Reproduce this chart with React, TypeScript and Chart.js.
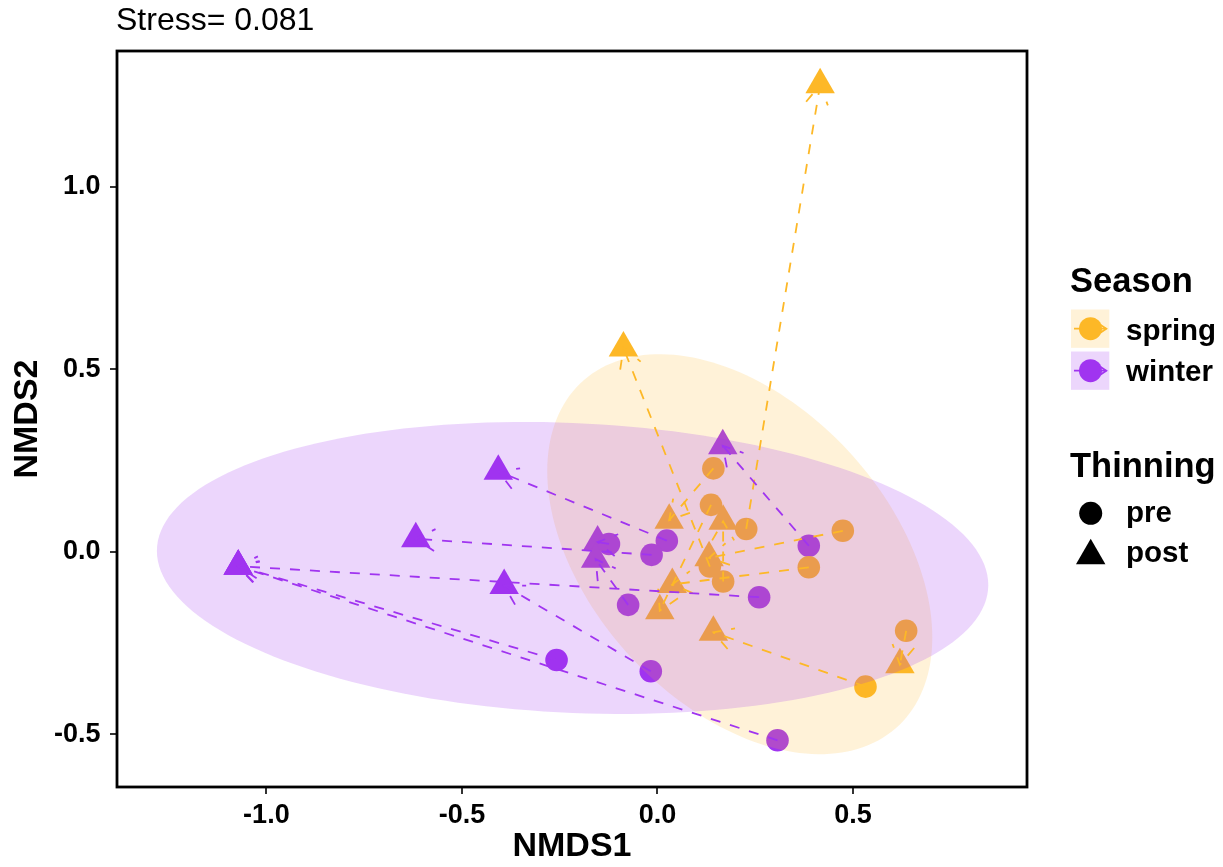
import React, { useEffect, useRef } from 'react';
import { Chart, registerables } from 'chart.js';

Chart.register(...registerables);

// ---------- colours ----------
const SPRING = '#FDB827';
const WINTER = '#A034F0';
const SPRING_FILL = 'rgba(253,184,39,0.18)';
const WINTER_FILL = 'rgba(160,52,240,0.20)';

// ---------- data (NMDS scores) ----------
// spring: pre-thinning (circles) and the matching post-thinning (triangles)
const springPreX = [0.143, 0.137, 0.227, 0.474, 0.387, 0.134, 0.168, 0.636, 0.532];
const springPreY = [0.229, 0.129, 0.063, 0.058, -0.042, -0.040, -0.081, -0.216, -0.369];
const springPostX = [0.030, 0.006, 0.416, 0.132, 0.038, -0.087, 0.168, 0.620, 0.143];
const springPostY = [0.087, -0.161, 1.280, -0.016, -0.089, 0.559, 0.084, -0.309, -0.220];

// winter: pre-thinning (circles) and the matching post-thinning (triangles)
const winterPreX = [-0.124, 0.024, -0.015, 0.387, -0.075, 0.260, -0.258, -0.017, 0.307];
const winterPreY = [0.022, 0.031, -0.008, 0.017, -0.145, -0.124, -0.296, -0.327, -0.516];
const winterPostX = [-0.153, -0.407, -0.618, 0.167, -0.158, -1.072, -1.072, -0.392, -1.072];
const winterPostY = [0.027, 0.221, 0.036, 0.291, -0.020, -0.039, -0.039, -0.092, -0.039];

// 95% ellipses: [centre x, centre y, half-extent x, half-extent y, correlation]
const springEllipse = [0.2105, -0.0062, 0.4923, 0.548, -0.416];
const winterEllipse = [-0.217, -0.0438, 1.063, 0.400, -0.1165];

// axes
const xTicks = [-1.0, -0.5, 0.0, 0.5];
const yTicks = [-0.5, 0.0, 0.5, 1.0];
const xRange = [-1.382, 0.945];
const yRange = [-0.644, 1.3726];

const stressLabel = 'Stress= 0.081';
const seasonLabels = ['spring', 'winter'];
const thinningLabels = ['pre', 'post'];

const FONT = '"Liberation Sans", Arial, Helvetica, sans-serif';

const toPoints = (xs: number[], ys: number[]) => xs.map((x, i) => ({ x, y: ys[i] }));

function drawArrow(ctx: CanvasRenderingContext2D, x0: number, y0: number, x1: number, y1: number, color: string) {
  ctx.strokeStyle = color;
  ctx.lineWidth = 1.8;
  ctx.lineCap = 'butt';
  ctx.setLineDash([10, 10]);
  ctx.beginPath();
  ctx.moveTo(x0, y0);
  ctx.lineTo(x1, y1);
  ctx.stroke();
  const ang = Math.atan2(y0 - y1, x0 - x1);
  const L = 22;
  const a = Math.PI / 6;
  ctx.beginPath();
  ctx.moveTo(x1 + L * Math.cos(ang + a), y1 + L * Math.sin(ang + a));
  ctx.lineTo(x1, y1);
  ctx.lineTo(x1 + L * Math.cos(ang - a), y1 + L * Math.sin(ang - a));
  ctx.stroke();
}

function drawEllipse(chart: any, e: number[], fill: string) {
  const { ctx, scales } = chart;
  const [cx, cy, wx, wy, r] = e;
  const s = Math.sqrt(1 - r * r);
  ctx.beginPath();
  const n = 180;
  for (let i = 0; i <= n; i++) {
    const t = (i / n) * Math.PI * 2;
    const dx = cx + wx * Math.cos(t);
    const dy = cy + wy * (r * Math.cos(t) + s * Math.sin(t));
    const px = scales.x.getPixelForValue(dx);
    const py = scales.y.getPixelForValue(dy);
    if (i === 0) ctx.moveTo(px, py);
    else ctx.lineTo(px, py);
  }
  ctx.closePath();
  ctx.fillStyle = fill;
  ctx.fill();
}

function drawTriangle(ctx: CanvasRenderingContext2D, x: number, y: number, r: number) {
  ctx.beginPath();
  for (let k = 0; k < 3; k++) {
    const rad = (k * 2 * Math.PI) / 3;
    const px = x + Math.sin(rad) * r;
    const py = y - Math.cos(rad) * r;
    if (k === 0) ctx.moveTo(px, py);
    else ctx.lineTo(px, py);
  }
  ctx.closePath();
  ctx.fill();
}

const overlayPlugin = {
  id: 'nmdsOverlay',
  afterDatasetsDraw(chart: any) {
    const { ctx, chartArea: ca, scales } = chart;
    const X = (v: number) => scales.x.getPixelForValue(v);
    const Y = (v: number) => scales.y.getPixelForValue(v);
    ctx.save();
    ctx.beginPath();
    ctx.rect(ca.left, ca.top, ca.right - ca.left, ca.bottom - ca.top);
    ctx.clip();
    drawEllipse(chart, springEllipse, SPRING_FILL);
    drawEllipse(chart, winterEllipse, WINTER_FILL);
    for (let i = 0; i < springPreX.length; i++) {
      drawArrow(ctx, X(springPreX[i]), Y(springPreY[i]), X(springPostX[i]), Y(springPostY[i]), SPRING);
    }
    for (let i = 0; i < winterPreX.length; i++) {
      drawArrow(ctx, X(winterPreX[i]), Y(winterPreY[i]), X(winterPostX[i]), Y(winterPostY[i]), WINTER);
    }
    ctx.restore();
    // panel border
    ctx.save();
    ctx.setLineDash([]);
    ctx.strokeStyle = '#000';
    ctx.lineWidth = 2.8;
    ctx.strokeRect(ca.left, ca.top, ca.right - ca.left, ca.bottom - ca.top);
    ctx.restore();
  },
  afterDraw(chart: any) {
    const { ctx } = chart;
    ctx.save();
    ctx.setLineDash([]);
    ctx.textAlign = 'left';
    ctx.textBaseline = 'alphabetic';
    ctx.fillStyle = '#000';
    // stress title
    ctx.font = `32px ${FONT}`;
    ctx.fillText(stressLabel, 116, 30);

    // Season legend
    ctx.font = `bold 34.5px ${FONT}`;
    ctx.fillText('Season', 1070, 291.5);
    const keyTops = [309.5, 351.5];
    const keyFills = [SPRING_FILL, WINTER_FILL];
    const keyCols = [SPRING, WINTER];
    const labelBase = [339.5, 380.7];
    for (let k = 0; k < 2; k++) {
      const top = keyTops[k];
      const left = 1071;
      const size = 38.3;
      ctx.fillStyle = keyFills[k];
      ctx.fillRect(left, top, size, size);
      const cy = top + size / 2;
      // segment with arrow
      ctx.strokeStyle = keyCols[k];
      ctx.lineWidth = 1.8;
      ctx.beginPath();
      ctx.moveTo(left + 3, cy);
      ctx.lineTo(left + size - 3, cy);
      ctx.stroke();
      ctx.beginPath();
      ctx.moveTo(left + size - 9, cy - 4);
      ctx.lineTo(left + size - 3, cy);
      ctx.lineTo(left + size - 9, cy + 4);
      ctx.stroke();
      ctx.fillStyle = keyCols[k];
      ctx.beginPath();
      ctx.arc(left + 19.5, cy, 11.5, 0, Math.PI * 2);
      ctx.fill();
      ctx.fillStyle = '#000';
      ctx.font = `bold 29.5px ${FONT}`;
      ctx.fillText(seasonLabels[k], 1126, labelBase[k]);
    }

    // Thinning legend
    ctx.fillStyle = '#000';
    ctx.font = `bold 34.5px ${FONT}`;
    ctx.fillText('Thinning', 1070, 476.7);
    ctx.beginPath();
    ctx.arc(1090.7, 513.3, 11.5, 0, Math.PI * 2);
    ctx.fill();
    drawTriangle(ctx, 1090.7, 555.8, 17);
    ctx.font = `bold 29.5px ${FONT}`;
    ctx.fillText(thinningLabels[0], 1126, 521.7);
    ctx.fillText(thinningLabels[1], 1126, 561.7);
    ctx.restore();
  },
};

export default function App() {
  const ref = useRef<HTMLCanvasElement | null>(null);

  useEffect(() => {
    if (!ref.current) return;
    const tickFont = { family: FONT, size: 27, weight: 'bold' as const };
    const titleFont = { family: FONT, size: 34, weight: 'bold' as const, lineHeight: 1 };
    const gridOpts = {
      display: true,
      drawOnChartArea: false,
      drawTicks: true,
      tickLength: 7,
      color: '#333333',
      lineWidth: 2,
    };
    const chart = new Chart(ref.current, {
      type: 'scatter',
      data: {
        datasets: [
          {
            label: 'spring pre',
            data: toPoints(springPreX, springPreY),
            pointStyle: 'circle',
            pointRadius: 11.3,
            pointHoverRadius: 11.3,
            backgroundColor: SPRING,
            borderWidth: 0,
          },
          {
            label: 'spring post',
            data: toPoints(springPostX, springPostY),
            pointStyle: 'triangle',
            pointRadius: 17,
            pointHoverRadius: 17,
            backgroundColor: SPRING,
            borderWidth: 0,
          },
          {
            label: 'winter pre',
            data: toPoints(winterPreX, winterPreY),
            pointStyle: 'circle',
            pointRadius: 11.3,
            pointHoverRadius: 11.3,
            backgroundColor: WINTER,
            borderWidth: 0,
          },
          {
            label: 'winter post',
            data: toPoints(winterPostX, winterPostY),
            pointStyle: 'triangle',
            pointRadius: 17,
            pointHoverRadius: 17,
            backgroundColor: WINTER,
            borderWidth: 0,
          },
        ],
      },
      options: {
        responsive: false,
        animation: false,
        events: [],
        layout: { padding: { left: 0, right: 196, top: 51, bottom: 0 } },
        plugins: {
          legend: { display: false },
          tooltip: { enabled: false },
          title: { display: false },
        },
        scales: {
          x: {
            type: 'linear',
            min: xRange[0],
            max: xRange[1],
            afterBuildTicks: (s: any) => {
              s.ticks = xTicks.map((v) => ({ value: v }));
            },
            afterFit: (s: any) => {
              s.height = 80;
            },
            grid: gridOpts,
            border: { display: false },
            ticks: {
              font: tickFont,
              color: '#000',
              padding: 5,
              maxRotation: 0,
              autoSkip: false,
              callback: (v: any) => Number(v).toFixed(1),
            },
            title: {
              display: true,
              text: 'NMDS1',
              color: '#000',
              font: titleFont,
              padding: { top: 0, bottom: 3 },
            },
          },
          y: {
            type: 'linear',
            min: yRange[0],
            max: yRange[1],
            afterBuildTicks: (s: any) => {
              s.ticks = yTicks.map((v) => ({ value: v }));
            },
            afterFit: (s: any) => {
              s.width = 117;
            },
            grid: gridOpts,
            border: { display: false },
            ticks: {
              font: tickFont,
              color: '#000',
              padding: 9.5,
              autoSkip: false,
              callback: (v: any) => Number(v).toFixed(1),
            },
            title: {
              display: true,
              text: 'NMDS2',
              color: '#000',
              font: titleFont,
              padding: { top: 10.5, bottom: 0 },
            },
          },
        },
      } as any,
      plugins: [overlayPlugin],
    });
    return () => chart.destroy();
  }, []);

  return (
    <div style={{ position: 'absolute', left: 0, top: 0, width: 1223, height: 867, background: '#fff' }}>
      <canvas ref={ref} width={1223} height={867} style={{ width: 1223, height: 867, display: 'block' }} />
    </div>
  );
}
